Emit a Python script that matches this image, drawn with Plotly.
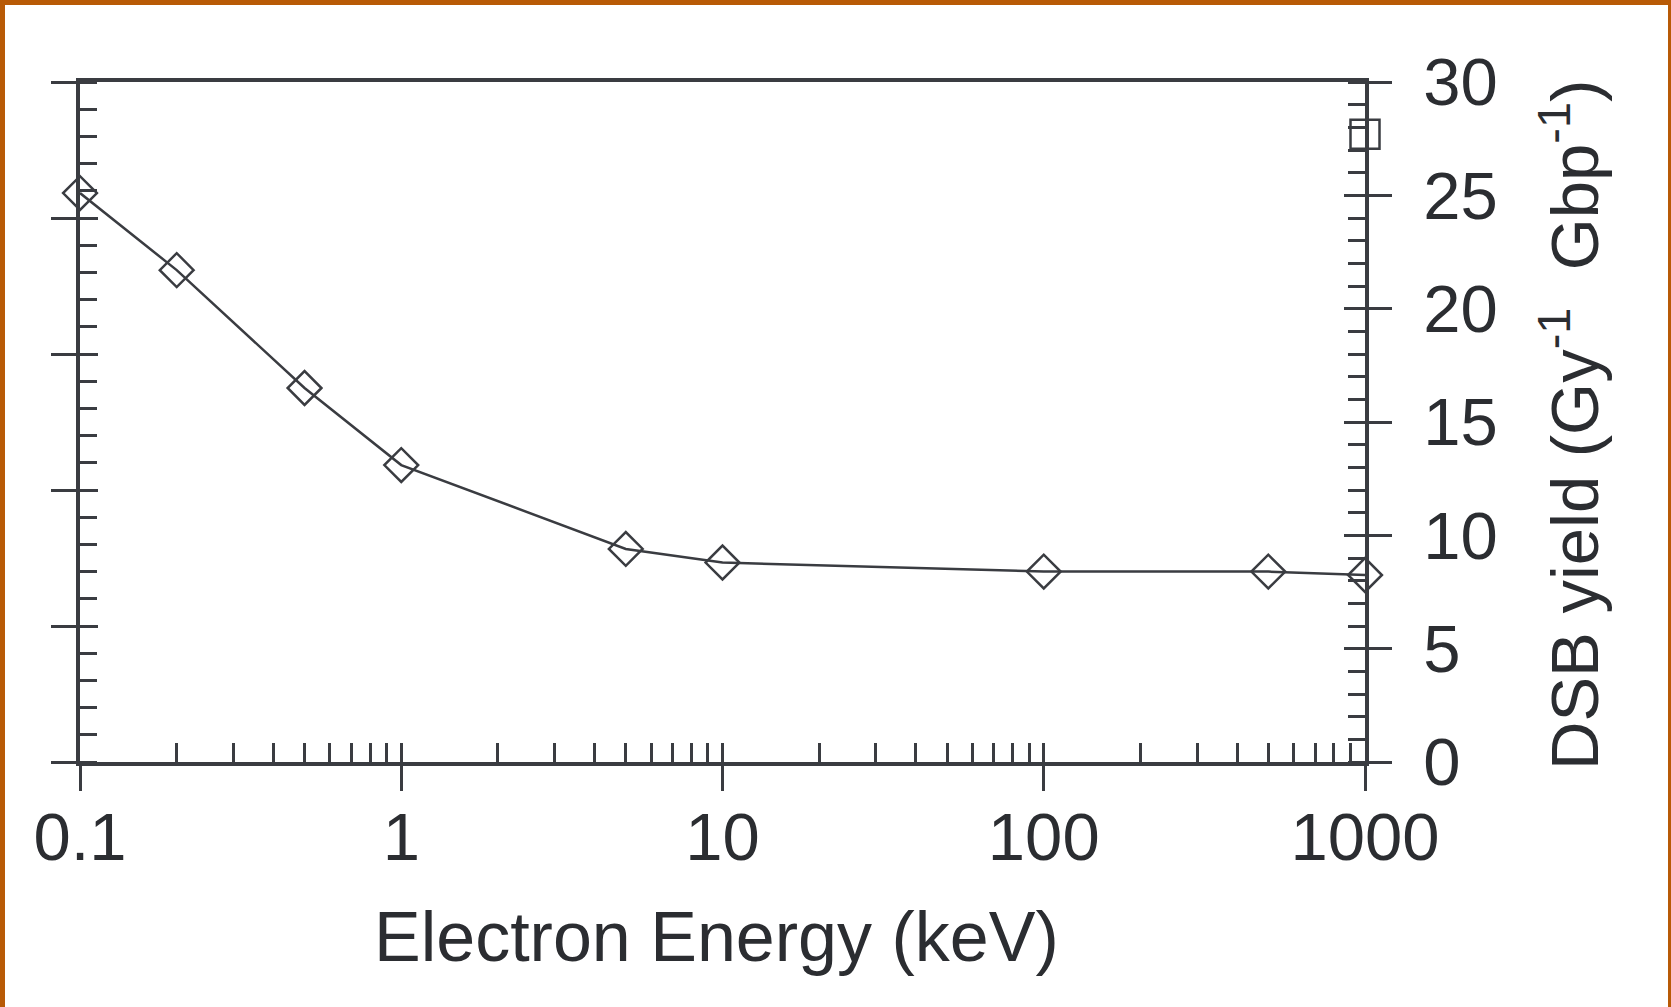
import plotly.graph_objects as go

# ---------------- data ----------------
energy_kev = [0.1, 0.2, 0.5, 1, 5, 10, 100, 500, 1000]
dsb_yield = [25.1, 21.7, 16.5, 13.1, 9.4, 8.8, 8.4, 8.4, 8.25]

ref_energy = [1000]
ref_yield = [27.7]

x_major_vals = [0.1, 1, 10, 100, 1000]
x_major_text = ["0.1", "1", "10", "100", "1000"]
x_minor_vals = [m * d for d in [0.1, 1, 10, 100] for m in range(2, 10)]

# ---------------- style ----------------
INK = "#3a3c41"
TXT = "#2b2d31"
FONT = "Liberation Sans, Arial, Helvetica, sans-serif"
FRAME = "#B85A06"

W, H = 1671, 1007
ML, MR, MT, MB = 80, 306, 82, 245
PW = W - ML - MR
PH = H - MT - MB
LW = 3.5   # axis line width
TW = 2.5   # tick width


def px_x(p):
    return (p - ML) / PW


def px_y(p):
    return (H - MB - p) / PH


fig = go.Figure()

fig.add_trace(go.Scatter(
    x=energy_kev, y=dsb_yield, mode="lines+markers",
    line=dict(color=INK, width=2.5),
    marker=dict(symbol="diamond-open", size=26, color=INK, line=dict(width=2.5, color=INK)),
    cliponaxis=False, showlegend=False, xaxis="x", yaxis="y",
))
fig.add_trace(go.Scatter(
    x=ref_energy, y=ref_yield, mode="markers",
    marker=dict(symbol="square-open", size=29, color=INK, line=dict(width=2.5, color=INK)),
    cliponaxis=False, showlegend=False, xaxis="x", yaxis="y",
))

tickfont = dict(family=FONT, size=67, color=TXT)

fig.update_layout(
    width=W, height=H,
    margin=dict(l=ML, r=MR, t=MT, b=MB, autoexpand=False),
    paper_bgcolor="white", plot_bgcolor="white",
    xaxis=dict(
        type="log", range=[-1, 3], anchor="y", side="bottom",
        showline=True, linewidth=LW, linecolor=INK, mirror=True,
        showgrid=False, zeroline=False,
        tickmode="array", tickvals=x_major_vals, ticktext=x_major_text,
        ticks="outside", ticklen=25, tickwidth=TW, tickcolor=INK,
        tickfont=tickfont, ticklabelstandoff=-11,
        minor=dict(tickmode="array", tickvals=x_minor_vals, ticks="inside",
                   ticklen=19, tickwidth=TW, tickcolor=INK, showgrid=False),
    ),
    xaxis2=dict(
        type="log", range=[-1, 3], overlaying="x", anchor="y", side="bottom",
        showline=False, showgrid=False, zeroline=False,
        tickmode="array", tickvals=x_major_vals,
        ticks="inside", ticklen=19, tickwidth=TW, tickcolor=INK,
        showticklabels=False,
    ),
    yaxis=dict(
        range=[0, 30], anchor="x", side="right",
        showline=True, linewidth=LW, linecolor=INK,
        showgrid=False, zeroline=False,
        tick0=0, dtick=5,
        ticks="outside", ticklen=23, tickwidth=TW, tickcolor=INK,
        tickfont=tickfont, ticklabelstandoff=18,
        minor=dict(tick0=0, dtick=1, ticks="inside", ticklen=17,
                   tickwidth=TW, tickcolor=INK, showgrid=False),
    ),
    yaxis2=dict(
        range=[0, 30], overlaying="y", anchor="x", side="right",
        showline=False, showgrid=False, zeroline=False,
        tick0=0, dtick=5, ticks="inside", ticklen=21, tickwidth=TW, tickcolor=INK,
        showticklabels=False,
    ),
    yaxis3=dict(
        range=[0, 25], overlaying="y", anchor="x", side="left",
        showline=True, linewidth=LW, linecolor=INK,
        showgrid=False, zeroline=False,
        tick0=0, dtick=5, ticks="outside", ticklen=25, tickwidth=TW, tickcolor=INK,
        showticklabels=False,
        minor=dict(tick0=0, dtick=1, ticks="inside", ticklen=17,
                   tickwidth=TW, tickcolor=INK, showgrid=False),
    ),
    yaxis4=dict(
        range=[0, 25], overlaying="y", anchor="x", side="left",
        showline=False, showgrid=False, zeroline=False,
        tick0=0, dtick=5, ticks="inside", ticklen=18, tickwidth=TW, tickcolor=INK,
        showticklabels=False,
    ),
    annotations=[
        dict(text="Electron Energy (keV)", xref="paper", yref="paper",
             x=0.495, y=px_y(937), xanchor="center", yanchor="middle",
             showarrow=False, font=dict(family=FONT, size=70, color=TXT)),
        dict(text="DSB yield (Gy<sup>-1</sup>  Gbp<sup>-1</sup>)", xref="paper", yref="paper",
             x=px_x(1570), y=px_y(425), xanchor="center", yanchor="middle", textangle=-90,
             showarrow=False, font=dict(family=FONT, size=67, color=TXT)),
    ],
    shapes=[
        dict(type="rect", xref="paper", yref="paper", layer="below",
             x0=px_x(-10), x1=px_x(W + 10), y0=px_y(5), y1=px_y(-10),
             fillcolor=FRAME, line=dict(width=0)),
        dict(type="rect", xref="paper", yref="paper", layer="below",
             x0=px_x(-10), x1=px_x(5), y0=px_y(H + 10), y1=px_y(-10),
             fillcolor=FRAME, line=dict(width=0)),
        dict(type="rect", xref="paper", yref="paper", layer="below",
             x0=px_x(1668), x1=px_x(W + 10), y0=px_y(H + 10), y1=px_y(-10),
             fillcolor=FRAME, line=dict(width=0)),
    ],
)

# empty traces so every overlay axis is instantiated
fig.add_trace(go.Scatter(x=[], y=[], xaxis="x2", yaxis="y2", showlegend=False, hoverinfo="skip"))
fig.add_trace(go.Scatter(x=[], y=[], xaxis="x", yaxis="y3", showlegend=False, hoverinfo="skip"))
fig.add_trace(go.Scatter(x=[], y=[], xaxis="x", yaxis="y4", showlegend=False, hoverinfo="skip"))

fig.write_html("out.html")
